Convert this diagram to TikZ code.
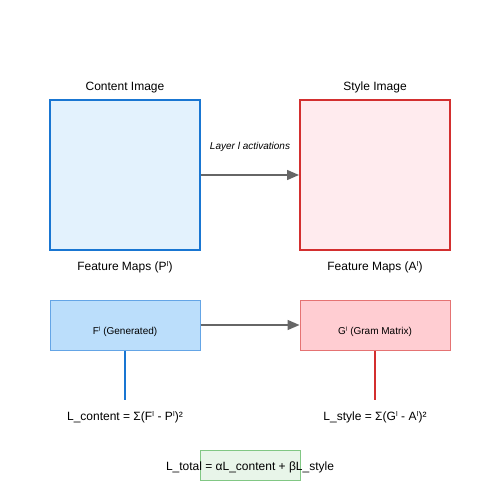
\documentclass[tikz,border=0pt]{standalone}
\usepackage{fontspec}
\setmainfont{Liberation Sans}
\newfontfamily\symfont{DejaVu Sans}
\usetikzlibrary{arrows.meta}
\newcommand{\lsup}{{\symfont ˡ}}
\tikzset{
	bigbox/.style={draw, line width=2pt, minimum width=150pt, minimum height=150pt, inner sep=0pt},
	smallbox/.style={draw, line width=1pt, minimum width=150pt, minimum height=50pt, inner sep=0pt},
	caption/.style={font=\fontsize{12}{14}\selectfont, inner sep=0pt, yshift=-1.5pt},
	smalltext/.style={font=\fontsize{10}{12}\selectfont, inner sep=0pt, yshift=-1pt},
	flow/.style={line width=1.5pt, draw=arrowgray, -{Triangle[length=12pt,width=10pt]}}
}

\begin{document}
\begin{tikzpicture}[x=1pt,y=-1pt]
		\definecolor{contentfill}{HTML}{E3F2FD}
		\definecolor{contentline}{HTML}{1976D2}
		\definecolor{stylefill}{HTML}{FFEBEE}
		\definecolor{styleline}{HTML}{D32F2F}
		\definecolor{genfill}{HTML}{BBDEFB}
		\definecolor{genline}{HTML}{64A5E6}
		\definecolor{gramfill}{HTML}{FFCDD2}
		\definecolor{gramline}{HTML}{E57373}
		\definecolor{totalfill}{HTML}{E8F5E9}
		\definecolor{totalline}{HTML}{81C784}
		\definecolor{arrowgray}{HTML}{666666}
		\useasboundingbox[fill=white] (0,0) rectangle (500,500);
		% images
		\node[bigbox, draw=contentline, fill=contentfill] (content) at (125,175) {};
		\node[bigbox, draw=styleline, fill=stylefill] (style) at (375,175) {};
		\node[caption] (contenttitle) at (125,86) {Content Image};
		\node[caption] (styletitle) at (375,86) {Style Image};
		% feature maps
		\node[caption] (contentmaps) at (125,266) {Feature Maps (P\lsup)};
		\node[caption] (stylemaps) at (375,266) {Feature Maps (A\lsup)};
		\draw[flow] (content.east) -- (style.west);
		\node[smalltext, font=\fontsize{10}{12}\selectfont\itshape] (layer) at (250,146) {Layer l activations};
		% generated / gram
		\node[smallbox, draw=genline, fill=genfill] (gen) at (125,325) {};
		\node[smallbox, draw=gramline, fill=gramfill] (gram) at (375,325) {};
		\node[smalltext] (gentext) at (125,331) {F\lsup\ (Generated)};
		\node[smalltext] (gramtext) at (375,331) {G\lsup\ (Gram Matrix)};
		\draw[flow] (gen.east) -- (gram.west);
		% losses
		\coordinate (contentend) at (125,400);
		\coordinate (styleend) at (375,400);
		\draw[line width=2pt, contentline] (gen.south) -- (contentend);
		\draw[line width=2pt, styleline] (gram.south) -- (styleend);
		\node[caption] (contentloss) at (125,416) {L\_content = Σ(F\lsup\ - P\lsup)²};
		\node[caption] (styleloss) at (375,416) {L\_style = Σ(G\lsup\ - A\lsup)²};
		% total
		\node[draw=totalline, fill=totalfill, line width=1pt, minimum width=100pt, minimum height=30pt, inner sep=0pt] (total) at (250,465) {};
		\node[caption] (totaltext) at (250,466) {L\_total = αL\_content + βL\_style};
		\end{tikzpicture}
\end{document}
